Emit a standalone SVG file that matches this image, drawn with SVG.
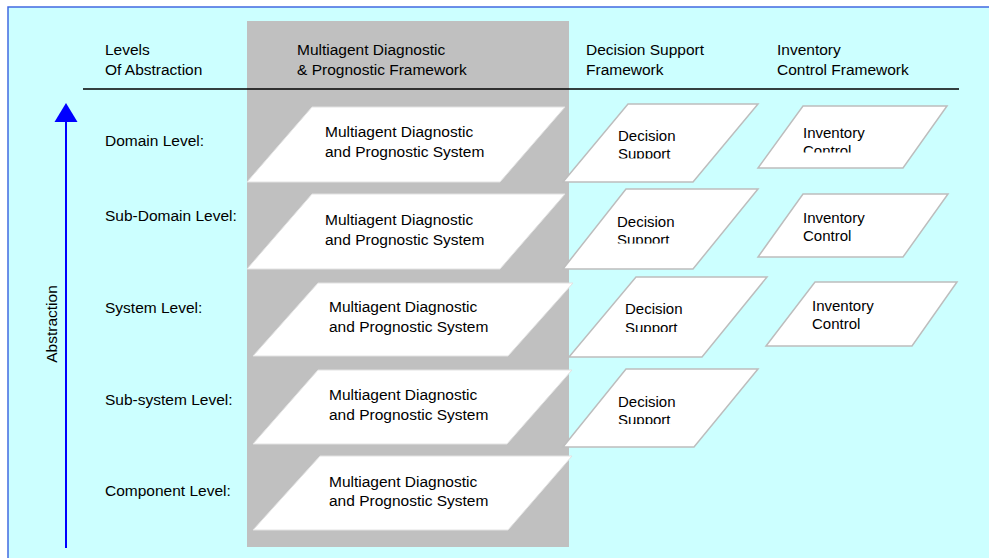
<svg xmlns="http://www.w3.org/2000/svg" width="989" height="558" viewBox="0 0 989 558">
  <style>
    text { font-family: "Liberation Sans", Arial, sans-serif; font-size: 15.5px; fill: #000; }
    .small { font-size: 15px; }
    .mdps { fill: #ffffff; stroke: #e2e2e2; stroke-width: 1; }
    .box { fill: #ffffff; stroke: #bdbdbd; stroke-width: 1.5; }
  </style>
  <defs>
    <clipPath id="clipDs1"><rect x="600" y="120" width="120" height="38.5"/></clipPath>
    <clipPath id="clipDs2"><rect x="600" y="205" width="120" height="38.5"/></clipPath>
    <clipPath id="clipDs3"><rect x="600" y="293" width="120" height="39"/></clipPath>
    <clipPath id="clipDs4"><rect x="600" y="385" width="120" height="39"/></clipPath>
    <clipPath id="clipIc1"><rect x="790" y="118" width="120" height="34.5"/></clipPath>
  </defs>

  <!-- page background and frame -->
  <rect x="0" y="0" width="989" height="558" fill="#ffffff"/>
  <rect x="8" y="7" width="990" height="560" fill="#ccffff" stroke="#4169e1" stroke-width="1.5"/>

  <!-- highlighted framework column -->
  <rect x="247" y="21" width="322" height="526" fill="#c0c0c0"/>

  <!-- column headings -->
  <g id="headings">
    <text x="105" y="55">Levels</text>
    <text x="105" y="75">Of Abstraction</text>
    <text x="297" y="55">Multiagent Diagnostic</text>
    <text x="297" y="75">&amp; Prognostic Framework</text>
    <text x="586" y="55">Decision Support</text>
    <text x="586" y="75">Framework</text>
    <text x="777" y="55">Inventory</text>
    <text x="777" y="75">Control Framework</text>
  </g>
  <line x1="83" y1="89" x2="959" y2="89" stroke="#000" stroke-width="1.5"/>

  <!-- level labels -->
  <g id="levels">
    <text x="105" y="146">Domain Level:</text>
    <text x="105" y="221">Sub-Domain Level:</text>
    <text x="105" y="313">System Level:</text>
    <text x="105" y="405">Sub-system  Level:</text>
    <text x="105" y="496">Component Level:</text>
  </g>

  <!-- abstraction axis -->
  <g id="connectors">
    <line x1="66" y1="118" x2="66" y2="548" stroke="#0000ff" stroke-width="2"/>
    <polygon points="66,103 77.5,122 54.5,122" fill="#0000ff"/>
  </g>
  <text x="57" y="324" text-anchor="middle" transform="rotate(-90 57 324)">Abstraction</text>

  <!-- multiagent diagnostic & prognostic systems -->
  <g id="mdps-domain">
    <polygon class="mdps" points="312,107 565,107 500,182 247,182"/>
    <text x="325" y="137">Multiagent Diagnostic</text>
    <text x="325" y="157">and Prognostic System</text>
  </g>
  <g id="mdps-subdomain">
    <polygon class="mdps" points="312,194 565,194 500,269 247,269"/>
    <text x="325" y="225">Multiagent Diagnostic</text>
    <text x="325" y="245">and Prognostic System</text>
  </g>
  <g id="mdps-system">
    <polygon class="mdps" points="318,283 573,283 508,356 253,356"/>
    <text x="329" y="312">Multiagent Diagnostic</text>
    <text x="329" y="332">and Prognostic System</text>
  </g>
  <g id="mdps-subsystem">
    <polygon class="mdps" points="318,370 572,370 507,444 253,444"/>
    <text x="329" y="400">Multiagent Diagnostic</text>
    <text x="329" y="420">and Prognostic System</text>
  </g>
  <g id="mdps-component">
    <polygon class="mdps" points="320,456 572,456 508,530 253,530"/>
    <text x="329" y="487">Multiagent Diagnostic</text>
    <text x="329" y="506">and Prognostic System</text>
  </g>

  <!-- decision support -->
  <g id="ds-domain">
    <polygon class="box" points="628,104 758,104 693,182 563,182"/>
    <g clip-path="url(#clipDs1)">
      <text class="small" x="618" y="141">Decision</text>
      <text class="small" x="618" y="159">Support</text>
    </g>
  </g>
  <g id="ds-subdomain">
    <polygon class="box" points="626,189 758,189 693,269 563,269"/>
    <g clip-path="url(#clipDs2)">
      <text class="small" x="617" y="227">Decision</text>
      <text class="small" x="617" y="245">Support</text>
    </g>
  </g>
  <g id="ds-system">
    <polygon class="box" points="636,277 767,277 702,357 569,357"/>
    <g clip-path="url(#clipDs3)">
      <text class="small" x="625" y="314">Decision</text>
      <text class="small" x="625" y="333">Support</text>
    </g>
  </g>
  <g id="ds-subsystem">
    <polygon class="box" points="626,369 758,369 694,447 563,447"/>
    <g clip-path="url(#clipDs4)">
      <text class="small" x="618" y="407">Decision</text>
      <text class="small" x="618" y="425">Support</text>
    </g>
  </g>

  <!-- inventory control -->
  <g id="ic-domain">
    <polygon class="box" points="803,106 947,106 903,168 758,168"/>
    <g clip-path="url(#clipIc1)">
      <text class="small" x="803" y="138">Inventory</text>
      <text class="small" x="803" y="156">Control</text>
    </g>
  </g>
  <g id="ic-subdomain">
    <polygon class="box" points="803,194 948,194 903,257 758,257"/>
    <text class="small" x="803" y="223">Inventory</text>
    <text class="small" x="803" y="241">Control</text>
  </g>
  <g id="ic-system">
    <polygon class="box" points="815,282 957,282 912,346 766,346"/>
    <text class="small" x="812" y="311">Inventory</text>
    <text class="small" x="812" y="329">Control</text>
  </g>
</svg>
